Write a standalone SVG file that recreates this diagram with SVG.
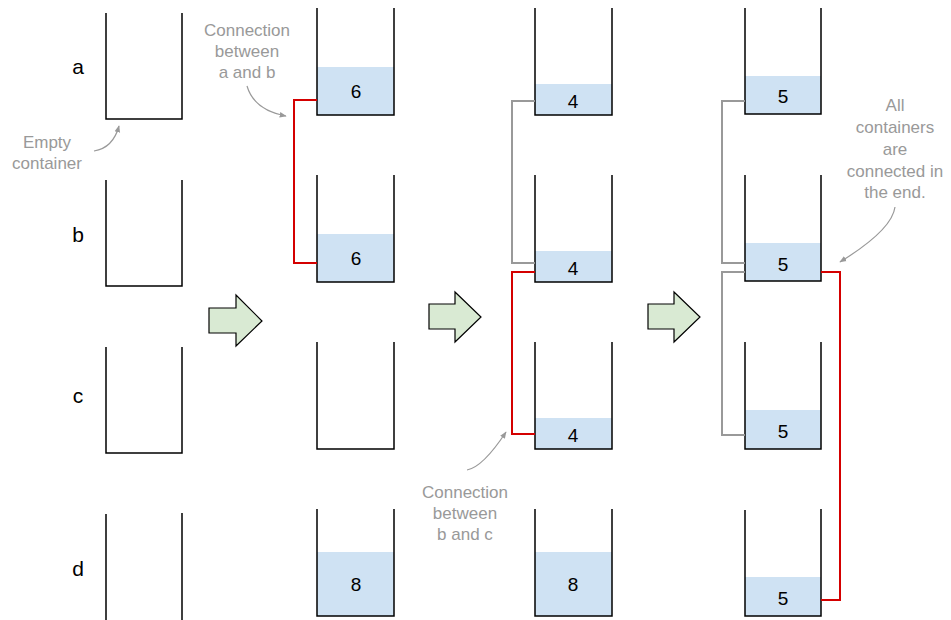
<svg xmlns="http://www.w3.org/2000/svg" width="951" height="620" viewBox="0 0 951 620">
<defs>
<style>
.wall{fill:none;stroke:#000;stroke-width:1.5}
.liq{fill:#cfe2f3}
.num{font-family:"Liberation Sans",Arial,sans-serif;font-size:19px;fill:#000;text-anchor:middle}
.lbl{font-family:"Liberation Sans",Arial,sans-serif;font-size:21px;fill:#000;text-anchor:middle}
.note{font-family:"Liberation Sans",Arial,sans-serif;font-size:17px;fill:#999;text-anchor:middle}
.red{fill:none;stroke:#d40000;stroke-width:2}
.gray{fill:none;stroke:#999;stroke-width:2}
.ptr{fill:none;stroke:#999;stroke-width:1.2;marker-end:url(#ah)}
.big{fill:#d9ead3;stroke:#000;stroke-width:1.2;stroke-linejoin:miter}
</style>
<marker id="ah" viewBox="0 0 10 10" refX="9" refY="5" markerWidth="7" markerHeight="7" orient="auto" markerUnits="userSpaceOnUse">
<path d="M0,1 L10,5 L0,9 z" fill="#999"/>
</marker>
</defs>

<g id="row-labels">
<text class="lbl" x="78" y="74">a</text>
<text class="lbl" x="78" y="242">b</text>
<text class="lbl" x="78" y="403">c</text>
<text class="lbl" x="78" y="576">d</text>
</g>

<!-- Column 1 -->
<g id="c1a"><path class="wall" d="M106,13 V119 H182 V13"/></g>
<g id="c1b"><path class="wall" d="M106,180 V286 H182 V180"/></g>
<g id="c1c"><path class="wall" d="M106,347 V453 H182 V347"/></g>
<g id="c1d"><path class="wall" d="M106,514 V620 M182,513 V620"/></g>

<!-- Column 2 -->
<g id="c2a"><rect class="liq" x="317" y="67" width="77" height="48"/><path class="wall" d="M317,8 V115 H394 V8"/><text class="num" x="356" y="98">6</text></g>
<g id="c2b"><rect class="liq" x="317" y="234" width="77" height="48"/><path class="wall" d="M317,175 V282 H394 V175"/><text class="num" x="356" y="265">6</text></g>
<g id="c2c"><path class="wall" d="M317,342 V449 H394 V342"/></g>
<g id="c2d"><rect class="liq" x="317" y="552" width="77" height="64"/><path class="wall" d="M317,509 V616 H394 V509"/><text class="num" x="356" y="591">8</text></g>

<!-- Column 3 -->
<g id="c3a"><rect class="liq" x="535" y="84" width="77" height="31"/><path class="wall" d="M535,8 V115 H612 V8"/><text class="num" x="573" y="108">4</text></g>
<g id="c3b"><rect class="liq" x="535" y="251" width="77" height="31"/><path class="wall" d="M535,175 V282 H612 V175"/><text class="num" x="573" y="275">4</text></g>
<g id="c3c"><rect class="liq" x="535" y="418" width="77" height="31"/><path class="wall" d="M535,342 V449 H612 V342"/><text class="num" x="573" y="442">4</text></g>
<g id="c3d"><rect class="liq" x="535" y="552" width="77" height="64"/><path class="wall" d="M535,509 V616 H612 V509"/><text class="num" x="573" y="591">8</text></g>

<!-- Column 4 -->
<g id="c4a"><rect class="liq" x="745" y="76" width="76" height="38"/><path class="wall" d="M745,8 V114 H821 V8"/><text class="num" x="783" y="103">5</text></g>
<g id="c4b"><rect class="liq" x="745" y="243" width="76" height="38"/><path class="wall" d="M745,175 V281 H821 V175"/><text class="num" x="783" y="271">5</text></g>
<g id="c4c"><rect class="liq" x="745" y="410" width="76" height="39"/><path class="wall" d="M745,342 V449 H821 V342"/><text class="num" x="783" y="438">5</text></g>
<g id="c4d"><rect class="liq" x="745" y="577" width="76" height="39"/><path class="wall" d="M745,510 V616 H821 V509"/><text class="num" x="783" y="605">5</text></g>

<g id="step-arrows">
<path class="big" d="M209,308 H236 V295 L262,321 L236,346 V333 H209 Z"/>
<path class="big" d="M429,304 H455 V292 L481,317 L455,342 V329 H429 Z"/>
<path class="big" d="M648,304 H674 V292 L700,317 L674,342 V329 H648 Z"/>
</g>

<g id="connectors">
<path class="red" d="M317,100 H294 V263 H317"/>
<path class="gray" d="M535,101 H512 V263 H535"/>
<path class="red" d="M535,272 H512 V434 H535"/>
<path class="gray" d="M745,101 H722 V263 H745"/>
<path class="gray" d="M745,272 H722 V435 H745"/>
<path class="red" d="M821,272 H840 V600 H821"/>
</g>

<g id="notes">
<text class="note" x="247" y="36">Connection</text>
<text class="note" x="247" y="57">between</text>
<text class="note" x="247" y="78">a and b</text>
<path class="ptr" d="M247,86 Q254,110 286,116"/>

<text class="note" x="47" y="148">Empty</text>
<text class="note" x="47" y="169">container</text>
<path class="ptr" d="M94,151 Q113,148 119,126"/>

<text class="note" x="465" y="498">Connection</text>
<text class="note" x="465" y="519">between</text>
<text class="note" x="465" y="540">b and c</text>
<path class="ptr" d="M467,470 Q483,467 506,432"/>

<text class="note" x="895" y="111">All</text>
<text class="note" x="895" y="133">containers</text>
<text class="note" x="895" y="155">are</text>
<text class="note" x="895" y="177">connected in</text>
<text class="note" x="895" y="198">the end.</text>
<path class="ptr" d="M895,207 Q892,230 840,262"/>
</g>
</svg>
